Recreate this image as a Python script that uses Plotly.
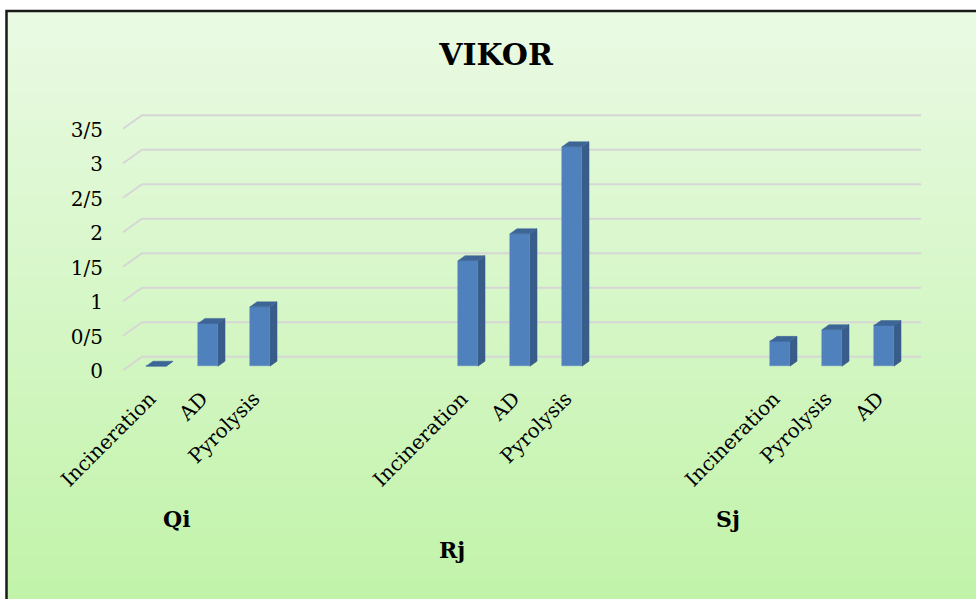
import plotly.graph_objects as go

# ---------------- data ----------------
groups = ["Qi", "Rj", "Sj"]
qi_labels = ["Incineration", "AD", "Pyrolysis"]
qi_values = [0.0, 0.62, 0.86]
rj_labels = ["Incineration", "AD", "Pyrolysis"]
rj_values = [1.53, 1.92, 3.18]
sj_labels = ["Incineration", "Pyrolysis", "AD"]
sj_values = [0.36, 0.53, 0.59]
y_tickvals = [0, 0.5, 1, 1.5, 2, 2.5, 3, 3.5]
y_ticktext = ["0", "0/5", "1", "1/5", "2", "2/5", "3", "3/5"]
title_text = "VIKOR"

# ---------------- layout geometry ----------------
W, H = 976, 599
ML, MR, MT, MB = 123, 55, 104, 219
PW, PH = W - ML - MR, H - MT - MB
YR = [-0.2, 3.8]
SLOT_PX = 52.0
XR = [-0.635, -0.635 + PW / SLOT_PX]
PX_PER_Y = PH / (YR[1] - YR[0])

def px_x(px):
    return (px - ML) / PW

def px_y(py):
    return (H - MB - py) / PH

# slots: 3 bars then 3 empty slots per group
x_pos, y_val, x_text = [], [], []
for gi, (labs, vals) in enumerate([(qi_labels, qi_values), (rj_labels, rj_values), (sj_labels, sj_values)]):
    for j, (l, v) in enumerate(zip(labs, vals)):
        x_pos.append(gi * 6 + j)
        y_val.append(v)
        x_text.append(l)

BW = 20 / SLOT_PX
DX = 7 / SLOT_PX
DY = 5 / PX_PER_Y

FRONT = "#4F81BD"
SIDE = "#385D8A"
TOP = "#3D6596"
FONT = "DejaVu Serif"

fig = go.Figure()
fig.add_trace(go.Bar(
    x=x_pos, y=y_val, width=BW,
    marker=dict(color=FRONT, line=dict(color="#5B8CC6", width=0.5)),
    hoverinfo="x+y", showlegend=False,
))

shapes = []
# background gradient (inside the frame)
top_c = (234, 250, 228)
bot_c = (193, 243, 169)
y0p, y1p = 12, H + 2
n = 80
step = (y1p - y0p) / n
for i in range(n):
    a = y0p + step * i
    b = a + step + 1.5
    t = (i + 0.5) / n
    c = tuple(round(top_c[k] + (bot_c[k] - top_c[k]) * t) for k in range(3))
    shapes.append(dict(type="rect", xref="paper", yref="paper", layer="below",
                       x0=px_x(7), x1=px_x(W + 2), y0=px_y(b), y1=px_y(a),
                       fillcolor="rgb(%d,%d,%d)" % c, line=dict(width=0)))

# gridlines with a receding floor/back wall look
FRONT_OFF = -4 / PX_PER_Y
BACK_OFF = 9.5 / PX_PER_Y
for v in y_tickvals:
    path = "M %f,%f L %f,%f L %f,%f" % (
        px_x(123), v + FRONT_OFF, px_x(142), v + BACK_OFF, px_x(921), v + BACK_OFF)
    shapes.append(dict(type="path", xref="paper", yref="y", layer="below",
                       path=path, line=dict(color="#D6D6D6", width=2)))

# 3-D faces of bars
for x, v in zip(x_pos, y_val):
    r = x + BW / 2
    l = x - BW / 2
    side = "M %f,%f L %f,%f L %f,%f L %f,%f Z" % (r, 0, r + DX, DY, r + DX, v + DY, r, v)
    top = "M %f,%f L %f,%f L %f,%f L %f,%f Z" % (l, v, l + DX, v + DY, r + DX, v + DY, r, v)
    shapes.append(dict(type="path", xref="x", yref="y", layer="above", path=side,
                       fillcolor=SIDE, line=dict(color=SIDE, width=0.5)))
    shapes.append(dict(type="path", xref="x", yref="y", layer="above", path=top,
                       fillcolor=TOP, line=dict(color=TOP, width=0.5)))

# outer frame (left and top edges visible)
shapes.append(dict(type="path", xref="paper", yref="paper", layer="above",
                   path="M %f,%f L %f,%f L %f,%f" % (px_x(6.5), px_y(H + 5), px_x(6.5), px_y(11), px_x(W + 5), px_y(11)),
                   line=dict(color="#1a1a1a", width=2.5)))

annotations = []
group_pos = [(177, 519), (452, 550), (728, 519)]
for g, (gx, gy) in zip(groups, group_pos):
    annotations.append(dict(text="<b>%s</b>" % g, xref="paper", yref="paper",
                            x=px_x(gx), y=px_y(gy), showarrow=False,
                            xanchor="center", yanchor="middle",
                            font=dict(family=FONT, size=22, color="black")))

fig.update_layout(
    width=W, height=H,
    margin=dict(l=ML, r=MR, t=MT, b=MB, pad=0),
    paper_bgcolor="white", plot_bgcolor="rgba(0,0,0,0)",
    title=dict(text="<b>%s</b>" % title_text, x=496 / W, y=1 - 54 / H,
               xref="container", yref="container", xanchor="center", yanchor="middle",
               font=dict(family=FONT, size=30, color="black")),
    xaxis=dict(range=XR, tickmode="array", tickvals=x_pos, ticktext=x_text,
               tickangle=-45, showgrid=False, zeroline=False, showline=False,
               ticks="", ticklabelshift=-6, ticklabelstandoff=2,
               tickfont=dict(family=FONT, size=20, color="black")),
    yaxis=dict(range=YR, tickmode="array", tickvals=y_tickvals, ticktext=y_ticktext,
               showgrid=False, zeroline=False, showline=False, ticks="",
               ticklabelstandoff=19, ticklabelshift=5,
               tickfont=dict(family=FONT, size=20, color="black")),
    shapes=shapes, annotations=annotations, bargap=0,
)

fig.write_html("out.html", config={"displayModeBar": False},
               post_script="document.body.style.margin='0';document.body.style.overflow='hidden';")
